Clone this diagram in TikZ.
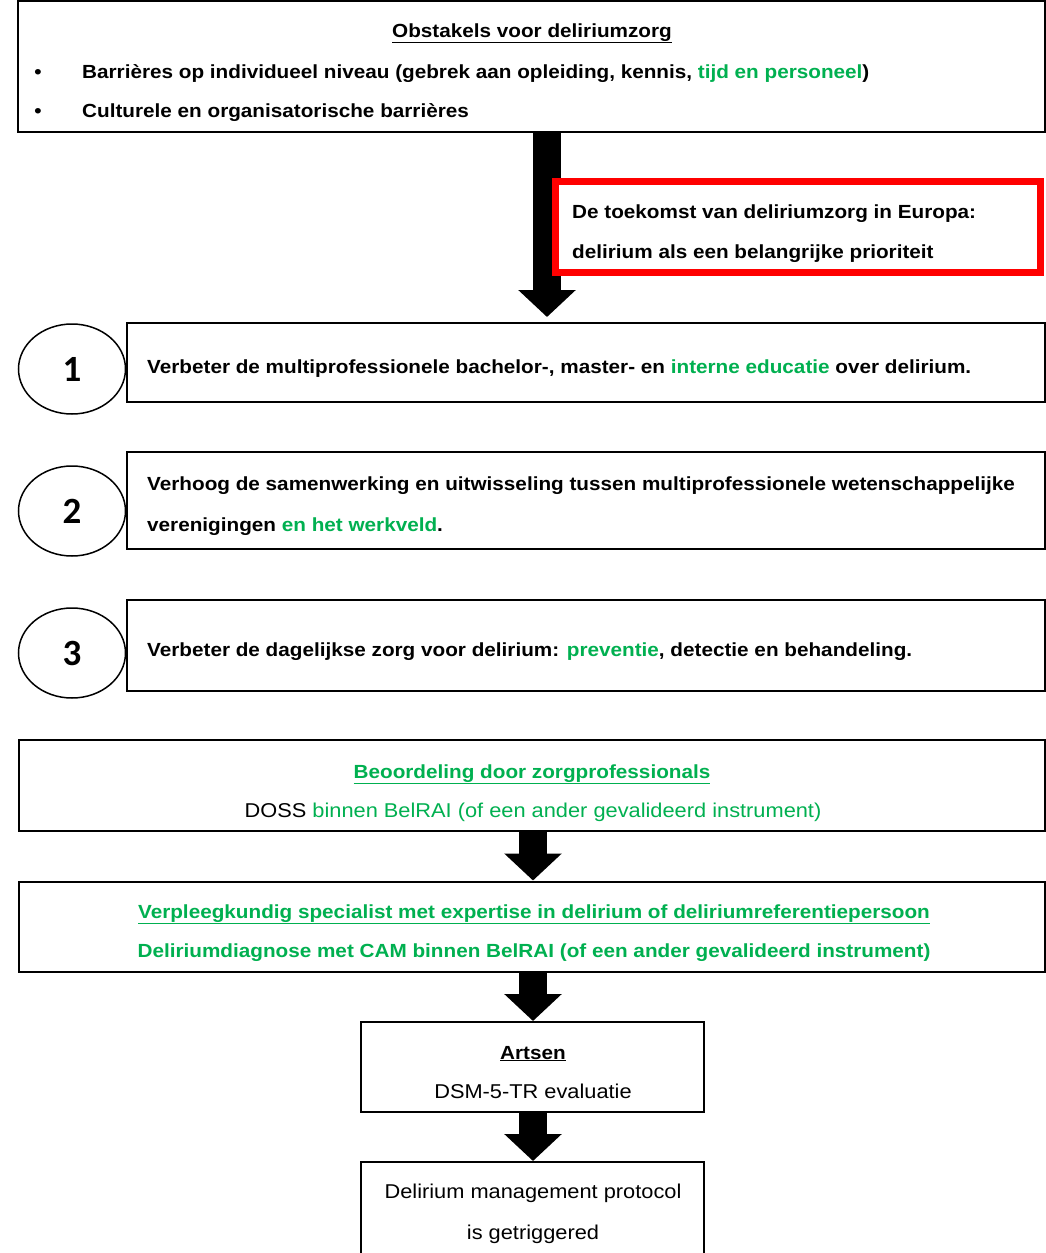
\documentclass[tikz,border=0pt]{standalone}
\usepackage{fontspec}
\setmainfont{Liberation Sans}[FakeStretch=1.09]
\newfontfamily\numfont{Carlito}
\usetikzlibrary{arrows.meta,shapes.geometric}
\definecolor{tgreen}{HTML}{00B050}
\definecolor{tred}{HTML}{FF0000}
\newcommand{\gr}[1]{\textcolor{tgreen}{#1}}
\begin{document}
\begin{tikzpicture}[x=1pt,y=-1pt,
  box/.style={draw, line width=2pt, fill=white, inner sep=0pt, rectangle},
  redbox/.style={draw=tred, line width=7pt, fill=white, inner sep=0pt, rectangle},
  circ/.style={draw, line width=1.5pt, ellipse, inner sep=0pt, minimum width=107pt, minimum height=90pt,
     font=\numfont\bfseries\fontsize{37}{40}\selectfont},
  tb/.style={inner sep=0pt, font=\fontsize{19}{22}\selectfont\bfseries},
  tr/.style={inner sep=0pt, font=\fontsize{20}{23}\selectfont},
  blk/.style={line width=28pt, -{Triangle[width=56pt,length=27pt]}},
]
\useasboundingbox (0,0) rectangle (1046,1253);
\clip (0,0) rectangle (1046,1253);

% ---- boxes
\node[box, minimum width=1027pt, minimum height=131pt] (top) at (531.5,66.5) {};
\node[box, minimum width=918pt, minimum height=79pt] (b1) at (586,362.5) {};
\node[box, minimum width=918pt, minimum height=97pt] (b2) at (586,500) {};
\node[box, minimum width=918pt, minimum height=91pt] (b3) at (586,645) {};
\node[circ] (e1) at (72,369) {1};
\node[circ] (e2) at (72,511) {2};
\node[circ] (e3) at (72,653) {3};
\node[box, minimum width=1026pt, minimum height=91pt] (b4) at (532,785.5) {};
\node[box, minimum width=1026pt, minimum height=90pt] (b5) at (532,926.5) {};
\node[box, minimum width=343pt, minimum height=90pt] (b6) at (532.5,1067) {};
\node[box, minimum width=343pt, minimum height=100pt] (b7) at (532.5,1212) {};

% ---- arrows
\coordinate (ax) at (547,0);
\coordinate (bx) at (533,0);
\draw[blk] (top.south -| ax) -- ([yshift=5pt]b1.north -| ax);
\draw[blk] (b4.south -| bx) -- (b5.north -| bx);
\draw[blk] (b5.south -| bx) -- (b6.north -| bx);
\draw[blk] (b6.south -| bx) -- (b7.north -| bx);

% ---- red box (over the arrow)
\node[redbox, minimum width=485pt, minimum height=91pt] (red) at (797.5,226.5) {};

% ---- texts
\node[tb, anchor=base] (t0) at (532,37) {\underline{Obstakels voor deliriumzorg}};
\node[tb, anchor=base] (bu1) at (38,78) {\textbullet};
\node[tb, anchor=base west] (t1) at (82,78) {Barrières op individueel niveau (gebrek aan opleiding, kennis, \gr{tijd en personeel})};
\node[tb, anchor=base] (bu2) at (38,117) {\textbullet};
\node[tb, anchor=base west] (t2) at (82,117) {Culturele en organisatorische barrières};

\node[tb, anchor=base west] (r1) at (572,218) {De toekomst van deliriumzorg in Europa:};
\node[tb, anchor=base west] (r2) at (572,258) {delirium als een belangrijke prioriteit};

\node[tb, anchor=base west] (s1) at (147,373) {Verbeter de multiprofessionele bachelor-, master- en \gr{interne educatie} over delirium.};
\node[tb, anchor=base west] (s2a) at (147,490) {Verhoog de samenwerking en uitwisseling tussen multiprofessionele wetenschappelijke};
\node[tb, anchor=base west] (s2b) at (147,531) {verenigingen \gr{en het werkveld}.};
\node[tb, anchor=base west] (s3) at (147,656) {Verbeter de dagelijkse zorg voor delirium: \gr{preventie}, detectie en behandeling.};

\node[tb, anchor=base, text=tgreen] (p1) at (532,778) {\underline{Beoordeling door zorgprofessionals}};
\node[tr, anchor=base] (p2) at (533,817) {DOSS \gr{binnen BelRAI (of een ander gevalideerd instrument)}};
\node[tb, anchor=base, text=tgreen] (q1) at (534,918) {\underline{Verpleegkundig specialist met expertise in delirium of deliriumreferentiepersoon}};
\node[tb, anchor=base, text=tgreen] (q2) at (534,957) {Deliriumdiagnose met CAM binnen BelRAI (of een ander gevalideerd instrument)};
\node[tb, anchor=base] (a1) at (533,1059) {\underline{Artsen}};
\node[tr, anchor=base] (a2) at (533,1098) {DSM-5-TR evaluatie};
\node[tr, anchor=base] (d1) at (533,1198) {Delirium management protocol};
\node[tr, anchor=base] (d2) at (533,1239) {is getriggered};
\end{tikzpicture}
\end{document}
